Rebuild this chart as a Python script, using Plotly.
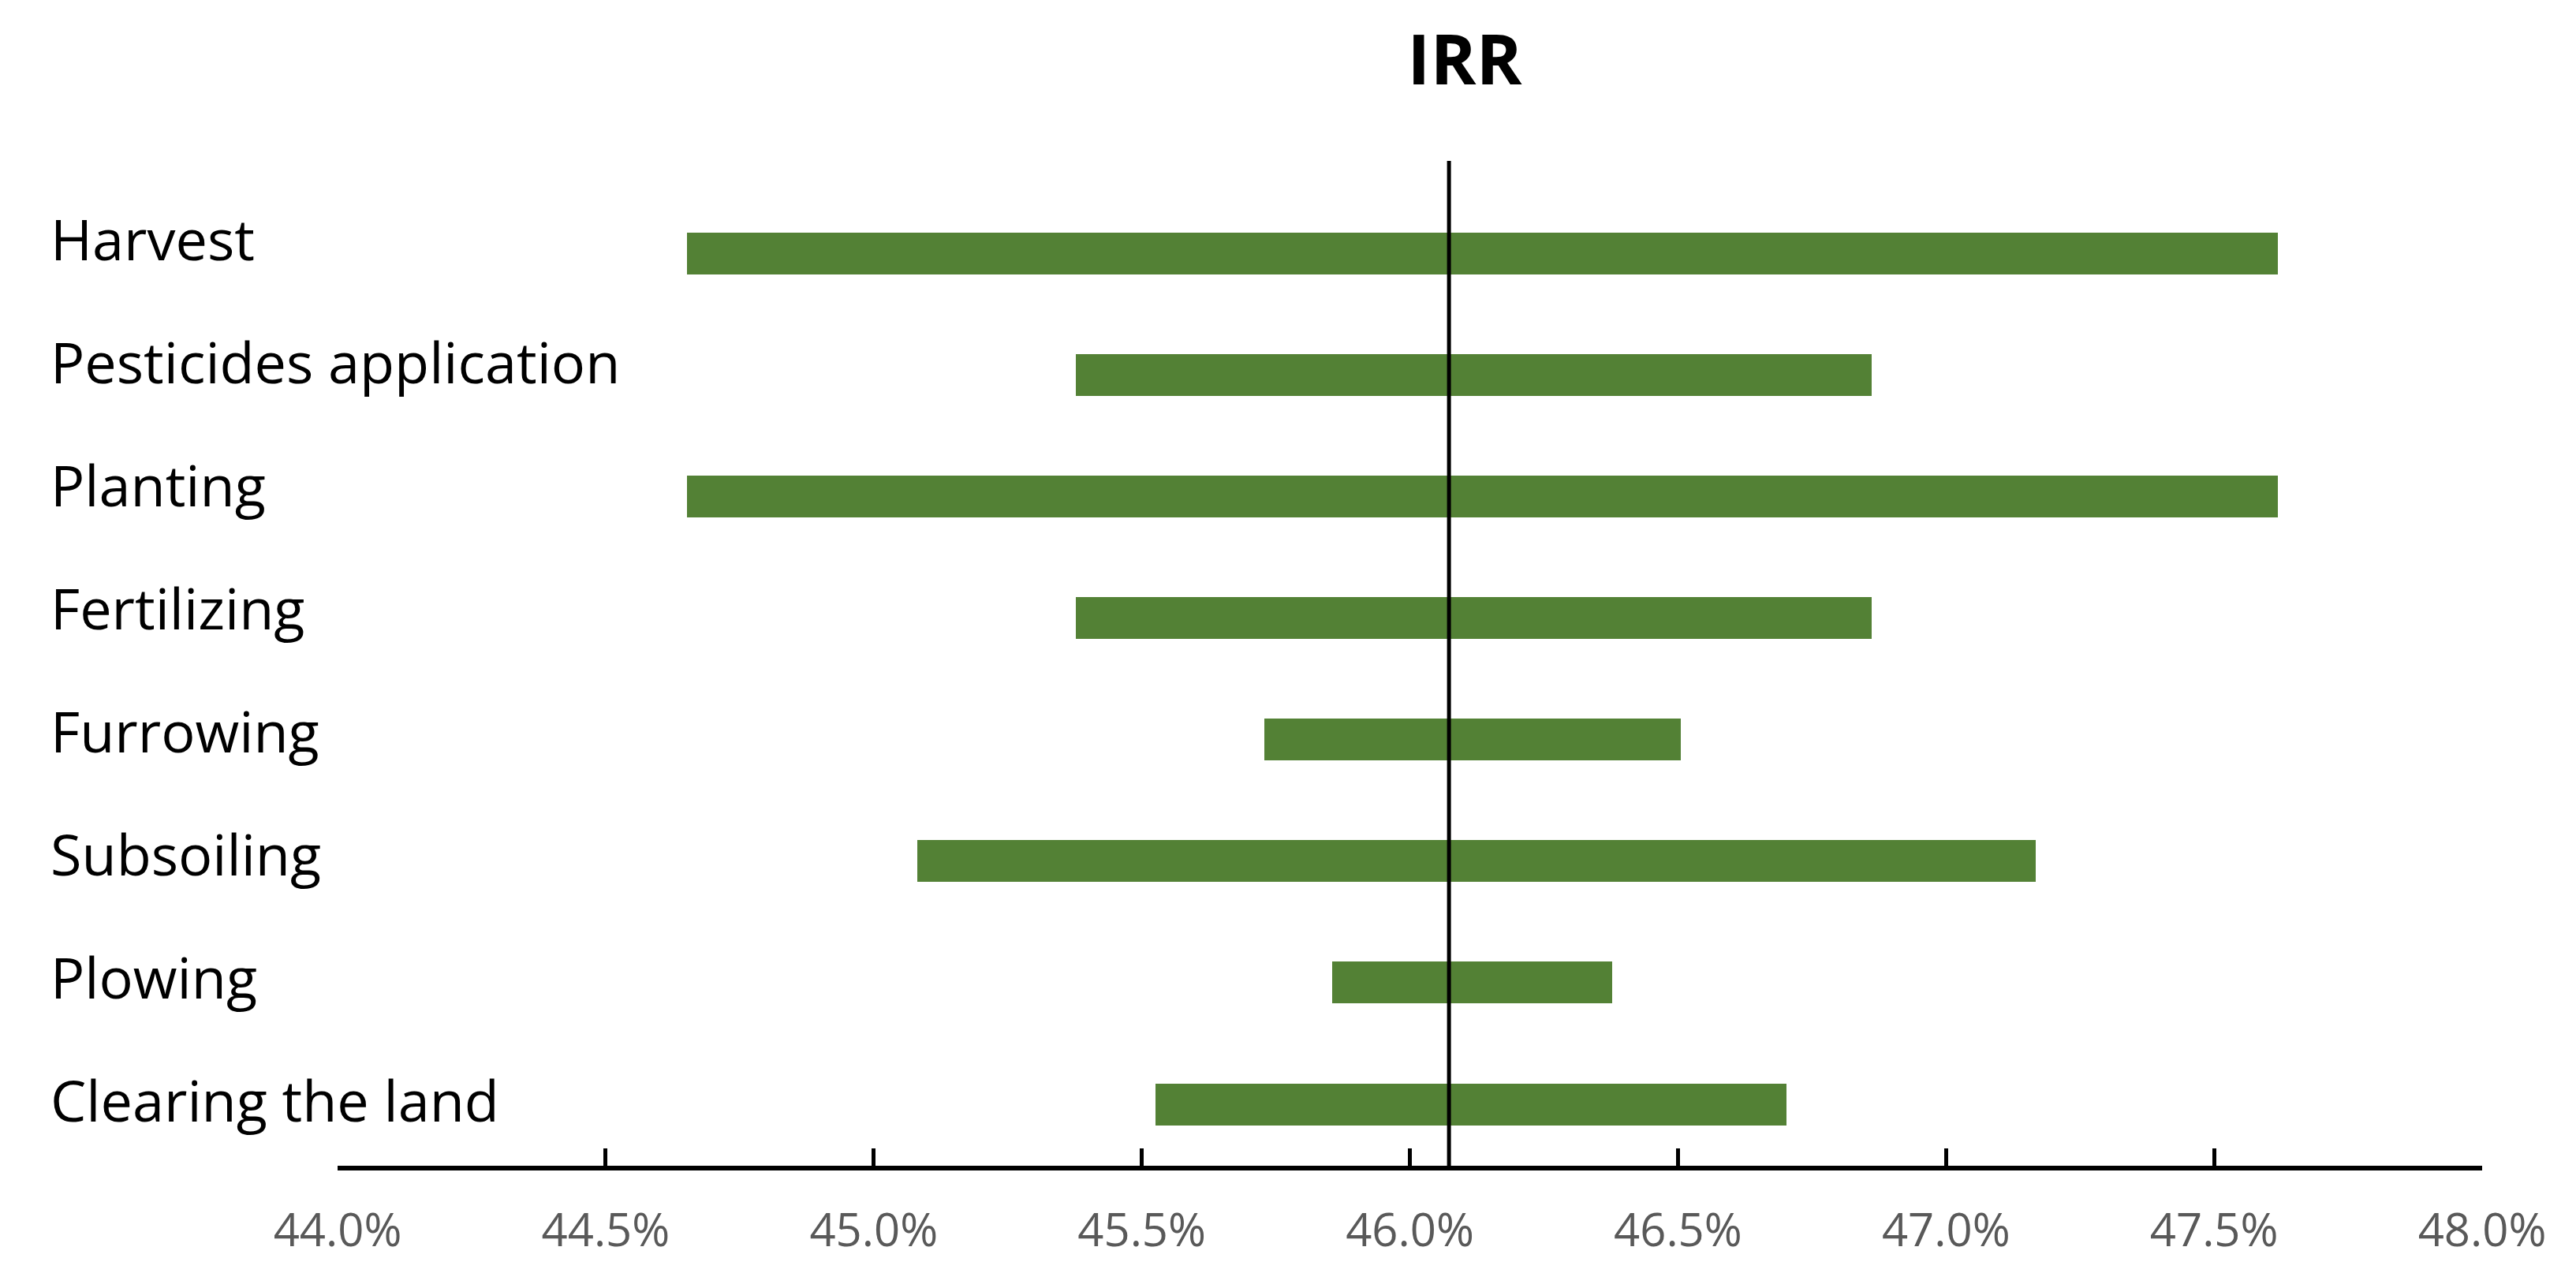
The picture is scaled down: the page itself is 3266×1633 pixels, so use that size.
import plotly.graph_objects as go

# Data (IRR sensitivity, %)
categories = ["Harvest", "Pesticides application", "Planting", "Fertilizing",
              "Furrowing", "Subsoiling", "Plowing", "Clearing the land"]
low_values = [44.651, 45.377, 44.651, 45.377, 45.728, 45.081, 45.855, 45.525]
high_values = [47.619, 46.861, 47.619, 46.861, 46.506, 47.168, 46.378, 46.702]
base_irr = 46.073
x_ticks = [44.0, 44.5, 45.0, 45.5, 46.0, 46.5, 47.0, 47.5, 48.0]
x_tick_labels = [f"{v:.1f}%" for v in x_ticks]

W, H = 3266, 1633
ML, MR, MT, MB = 420, 127, 196, 163
plot_w = W - ML - MR

fig = go.Figure()
fig.add_trace(go.Bar(
    y=categories,
    x=[h - l for h, l in zip(high_values, low_values)],
    base=low_values,
    orientation="h",
    width=0.344,
    marker=dict(color="#538135", line=dict(width=0)),
    showlegend=False,
    hoverinfo="skip",
))

# vertical base line
fig.add_shape(type="line", xref="x", yref="paper",
              x0=base_irr, x1=base_irr, y0=0, y1=1,
              line=dict(color="black", width=5), layer="above")

# left-aligned category labels
label_x = (54 - ML) / plot_w
n = len(categories)
for i, c in enumerate(categories):
    fig.add_annotation(text=c, xref="paper", yref="y", x=label_x, y=c,
                       xanchor="left", yanchor="middle", showarrow=False,
                       yshift=6 + 2 * (n - 1 - i),
                       font=dict(family="Open Sans", size=72, color="black"))

fig.update_layout(
    width=W, height=H,
    margin=dict(l=ML, r=MR, t=MT, b=MB),
    paper_bgcolor="white", plot_bgcolor="white",
    title=dict(text="<b>IRR</b>", x=1849 / W, xanchor="center", xref="container",
               y=1 - 68 / H, yanchor="middle", yref="container",
               font=dict(family="Open Sans", size=88, color="black")),
    xaxis=dict(range=[44.0, 48.0], tickvals=x_ticks, ticktext=x_tick_labels,
               showgrid=False, zeroline=False,
               showline=True, linecolor="black", linewidth=6,
               ticks="inside", ticklen=22, tickwidth=5, tickcolor="black",
               ticklabelstandoff=26,
               tickfont=dict(family="Open Sans", size=58, color="#595959")),
    yaxis=dict(type="category", categoryorder="array",
               categoryarray=list(reversed(categories)),
               range=[-0.506, 7.763], showticklabels=False,
               showgrid=False, zeroline=False, showline=False, ticks=""),
    bargap=0,
)

fig.write_html("out.html")
